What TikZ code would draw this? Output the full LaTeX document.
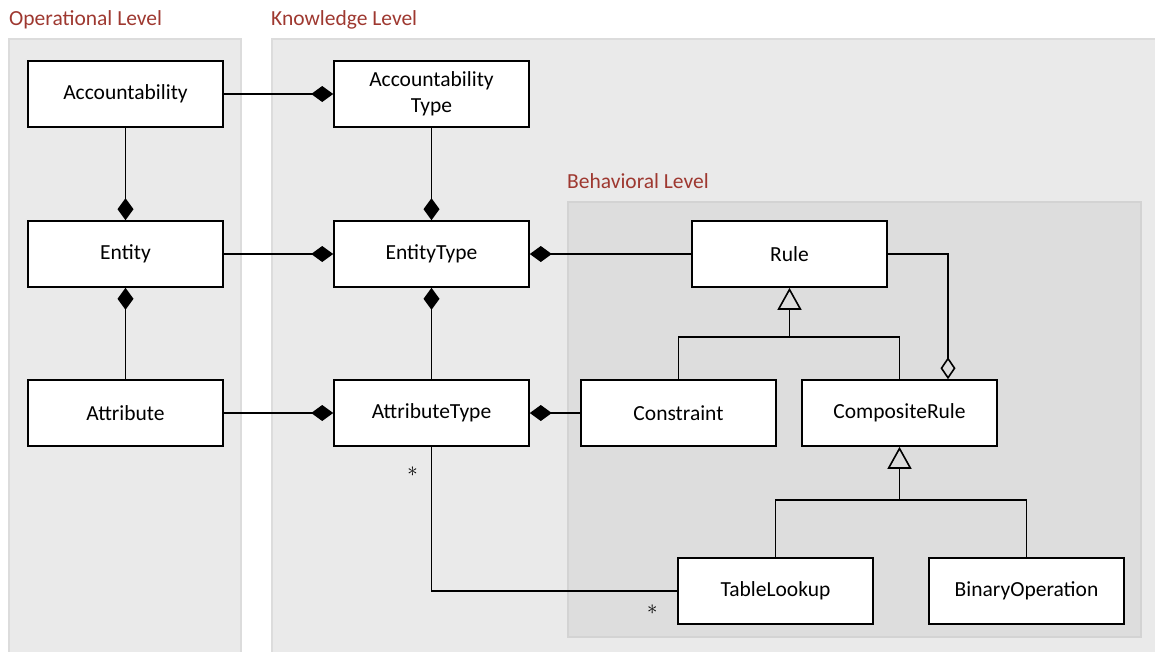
\documentclass[tikz,border=0pt]{standalone}
\usepackage{fontspec}
\setmainfont{Carlito}
\usetikzlibrary{arrows.meta,positioning}

\definecolor{levelred}{RGB}{158,56,48}
\definecolor{panelfill}{RGB}{234,234,234}
\definecolor{paneledge}{RGB}{220,220,220}
\definecolor{innerfill}{RGB}{221,221,221}
\definecolor{inneredge}{RGB}{211,211,211}

\begin{document}
\begin{tikzpicture}[x=1pt,y=-1pt,
    cls/.style={draw,fill=white,line width=1.6pt,minimum width=195pt,minimum height=66pt,
      align=center,font=\fontsize{21.5}{26}\selectfont},
    level/.style={anchor=west,inner sep=0pt,text=levelred,font=\fontsize{21.5}{26}\selectfont},
    link/.style={line width=1.6pt},
    comp/.style={link,-{Diamond[length=22pt,width=16pt]}},
    agg/.style={link,-{Diamond[open,length=22pt,width=15pt]}},
    gen/.style={link,-{Triangle[open,length=22pt,width=24pt]}},
    mult/.style={font=\fontsize{20}{20}\selectfont}]
  \useasboundingbox (0,0) rectangle (1155,651);

  % levels
  \draw[fill=panelfill,draw=paneledge,line width=1.5pt] (9,39) rectangle (241,660);
  \draw[fill=panelfill,draw=paneledge,line width=1.5pt] (272,39) rectangle (1165,660);
  \draw[fill=innerfill,draw=inneredge,line width=1.5pt] (568,202) rectangle (1141,637);
  \node[level] (oplabel) at (9,20) {Operational Level};
  \node[level] (knlabel) at (271,20) {Knowledge Level};
  \node[level] (behlabel) at (567,181) {Behavioral Level};

  % classes
  \node[cls] (acc) at (125.5,94) {Accountability};
  \node[cls] (acctype) at (431.5,94) {Accountability\\Type};
  \node[cls] (ent) at (125.5,254) {Entity};
  \node[cls] (enttype) at (431.5,254) {EntityType};
  \node[cls] (att) at (125.5,413) {Attribute};
  \node[cls] (atttype) at (431.5,413) {AttributeType};
  \node[cls] (rule) at (789.5,254) {Rule};
  \node[cls] (constr) at (678.5,413) {Constraint};
  \node[cls] (comprule) at (899.5,413) {CompositeRule};
  \node[cls] (lookup) at (775.5,591) {TableLookup};
  \node[cls] (binop) at (1026.5,591) {BinaryOperation};

  % composition
  \draw[comp] (acc) -- (acctype);
  \draw[comp] (acc) -- (ent);
  \draw[comp] (acctype) -- (enttype);
  \draw[comp] (ent) -- (enttype);
  \draw[comp] (att) -- (ent);
  \draw[comp] (atttype) -- (enttype);
  \draw[comp] (att) -- (atttype);
  \draw[comp] (rule) -- (enttype);
  \draw[comp] (constr) -- (atttype);

  % generalization
  \coordinate (genrule) at (789.5,337);
  \coordinate (gencomp) at (899.5,500);
  \draw[link] (constr.north) |- (genrule) -| (comprule.north);
  \draw[gen] (genrule) -- (rule.south);
  \draw[link] (lookup.north) |- (gencomp) -| (binop.north);
  \draw[gen] (gencomp) -- (comprule.south);

  % aggregation
  \draw[agg] (rule.east) -| ([xshift=48.5pt]comprule.north);

  % association
  \draw[link] (atttype.south) |- (lookup.west);
  \node[mult] (multa) at ([xshift=-19pt,yshift=-25pt]atttype.south) {$\ast$};
  \node[mult] (multb) at ([xshift=-25pt,yshift=-19pt]lookup.west) {$\ast$};
\end{tikzpicture}
\end{document}
